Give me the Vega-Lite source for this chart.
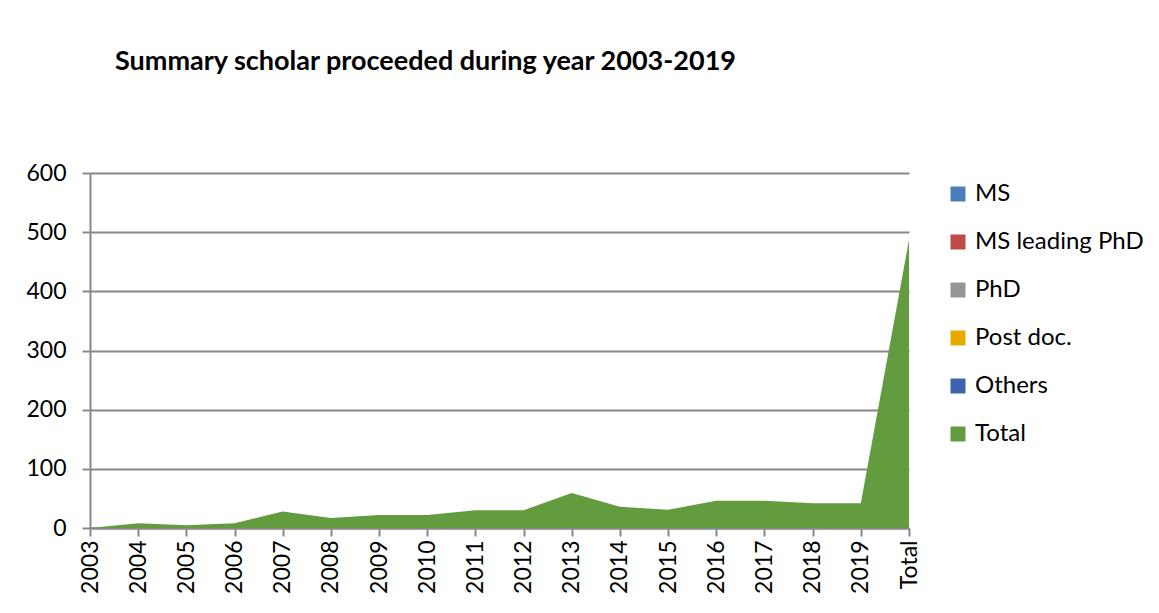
{
  "$schema": "https://vega.github.io/schema/vega-lite/v6.json",
  "autosize": {"type": "none"},
  "padding": {"left": 90, "top": 173, "right": 250, "bottom": 85},
  "width": 819,
  "height": 355,
  "background": "white",
  "title": {
    "text": "Summary scholar proceeded during year 2003-2019",
    "anchor": "start",
    "frame": "group",
    "dx": 25,
    "offset": 65,
    "baseline": "alphabetic",
    "font": "Lato",
    "fontSize": 27,
    "fontWeight": "bold",
    "color": "#000000"
  },
  "data": {
    "values": [
      {"year": "2003", "series": "Total", "count": 0},
      {"year": "2004", "series": "Total", "count": 8},
      {"year": "2005", "series": "Total", "count": 4.5},
      {"year": "2006", "series": "Total", "count": 8},
      {"year": "2007", "series": "Total", "count": 28},
      {"year": "2008", "series": "Total", "count": 17},
      {"year": "2009", "series": "Total", "count": 22},
      {"year": "2010", "series": "Total", "count": 22},
      {"year": "2011", "series": "Total", "count": 30},
      {"year": "2012", "series": "Total", "count": 30},
      {"year": "2013", "series": "Total", "count": 59},
      {"year": "2014", "series": "Total", "count": 36},
      {"year": "2015", "series": "Total", "count": 31},
      {"year": "2016", "series": "Total", "count": 46},
      {"year": "2017", "series": "Total", "count": 46},
      {"year": "2018", "series": "Total", "count": 42},
      {"year": "2019", "series": "Total", "count": 42},
      {"year": "Total", "series": "Total", "count": 487}
    ]
  },
  "mark": {"type": "area", "interpolate": "linear", "opacity": 1},
  "encoding": {
    "x": {
      "field": "year",
      "type": "ordinal",
      "sort": null,
      "scale": {"type": "point", "padding": 0},
      "axis": {
        "title": null,
        "labelAngle": -90,
        "labelFont": "Lato",
        "labelFontSize": 23,
        "labelColor": "#000000",
        "labelPadding": 4,
        "tickSize": 8,
        "tickColor": "#888888",
        "tickWidth": 2,
        "domainColor": "#888888",
        "domainWidth": 2,
        "grid": false
      }
    },
    "y": {
      "field": "count",
      "type": "quantitative",
      "scale": {"domain": [0, 600], "nice": false},
      "axis": {
        "title": null,
        "values": [0, 100, 200, 300, 400, 500, 600],
        "labelFont": "Lato",
        "labelFontSize": 23,
        "labelColor": "#000000",
        "labelPadding": 16,
        "tickSize": 8,
        "tickColor": "#888888",
        "tickWidth": 2,
        "domainColor": "#888888",
        "domainWidth": 2,
        "grid": true,
        "gridColor": "#888888",
        "gridWidth": 2
      }
    },
    "color": {
      "field": "series",
      "type": "nominal",
      "scale": {
        "domain": ["MS", "MS leading PhD", "PhD", "Post doc.", "Others", "Total"],
        "range": ["#4A7EBB", "#BE4B48", "#969696", "#E8AA00", "#3D64AE", "#639B3F"]
      },
      "legend": {
        "title": null,
        "orient": "none",
        "legendX": 856,
        "legendY": 9,
        "symbolType": "square",
        "symbolSize": 225,
        "symbolStrokeWidth": 0,
        "symbolOpacity": 1,
        "labelFont": "Lato",
        "labelFontSize": 24,
        "labelColor": "#000000",
        "labelOffset": 5,
        "rowPadding": 24,
        "padding": 0,
        "labelLimit": 300
      }
    }
  },
  "config": {
    "view": {"stroke": null}
  }
}
